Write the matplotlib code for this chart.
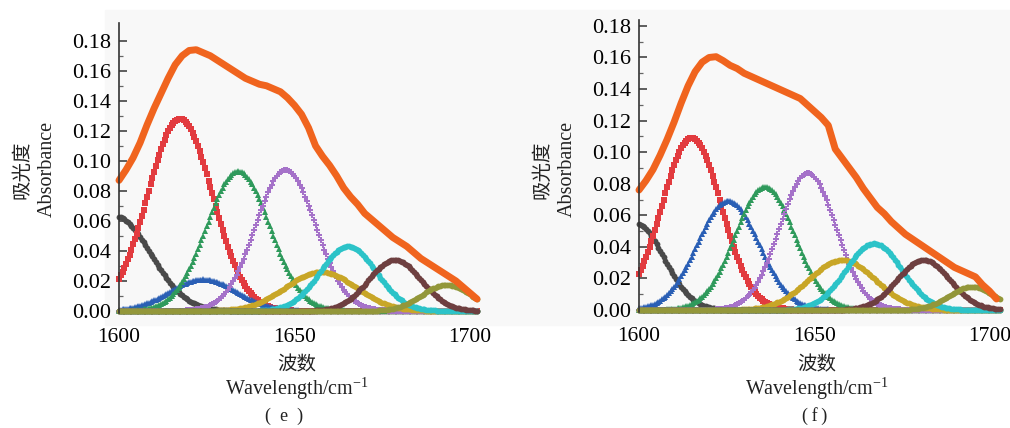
#Peak fitting of the amide I band, panels (e) and (f)
import numpy as np
import matplotlib.pyplot as plt
from matplotlib.patches import Rectangle

plt.rcParams['font.family'] = ['Liberation Serif', 'Noto Sans CJK SC']
plt.rcParams['mathtext.fontset'] = 'custom'
plt.rcParams['mathtext.rm'] = 'Liberation Serif'

# measured spectrum, read every 2 cm-1 from 1600 to 1702
wn_spec = list(range(1600, 1703, 2))
spec_e = [0.087, 0.094, 0.102, 0.112, 0.124, 0.135, 0.145, 0.155, 0.164, 0.170,
          0.1735, 0.174, 0.172, 0.170, 0.167, 0.164, 0.161, 0.158, 0.155, 0.153,
          0.151, 0.150, 0.148, 0.146, 0.142, 0.137, 0.131, 0.122, 0.110, 0.103,
          0.097, 0.090, 0.082, 0.076, 0.071, 0.065, 0.061, 0.057, 0.053, 0.049,
          0.046, 0.043, 0.039, 0.035, 0.032, 0.029, 0.026, 0.023, 0.020, 0.016,
          0.012, 0.008]
spec_f = [0.076, 0.082, 0.089, 0.098, 0.108, 0.119, 0.131, 0.142, 0.151, 0.157,
          0.160, 0.1605, 0.158, 0.155, 0.153, 0.150, 0.148, 0.146, 0.144, 0.142,
          0.140, 0.138, 0.136, 0.134, 0.130, 0.126, 0.122, 0.117, 0.102, 0.096,
          0.090, 0.084, 0.077, 0.071, 0.065, 0.061, 0.056, 0.052, 0.048, 0.045,
          0.042, 0.039, 0.036, 0.033, 0.030, 0.027, 0.025, 0.023, 0.021, 0.016,
          0.012, 0.007]

# fitted gaussian bands: black, red, blue, green, purple, gold, cyan, brown, olive
band_colors = ['#4a4a4a', '#e23b3f', '#2a5fb5', '#2f9a5c', '#a572c9',
               '#c8a627', '#2cc3c8', '#6e3f40', '#93973a']
band_markers = ['o', 's', '^', '^', 'P', 'o', 'o', 'o', 'o']

centers_e = [1599, 1617.4, 1624, 1634, 1647.5, 1657.5, 1665.3, 1678.6, 1693.3]
heights_e = [0.063, 0.128, 0.021, 0.093, 0.094, 0.026, 0.043, 0.034, 0.0174]
widths_e = [10, 9.2, 9.5, 9.0, 8.5, 10, 8, 7.5, 7]

centers_f = [1599, 1615, 1625.5, 1636, 1648.2, 1657.9, 1667, 1681.2, 1695]
heights_f = [0.055, 0.109, 0.069, 0.078, 0.0866, 0.0317, 0.0422, 0.0317, 0.0148]
widths_f = [8, 8.5, 8.8, 8.5, 8, 9.5, 8, 7.5, 6.5]

W, H = 1010, 428
fig = plt.figure(figsize=(W / 100, H / 100), dpi=100)
fig.patches.append(Rectangle((105 / W, 1 - 325 / H), 905 / W, 315 / H,
                             transform=fig.transFigure, color='#f8f8f8', zorder=-5))

panels = [
    # spectrum, centers, heights, widths, axis px (left, right, top, bottom), xmax, ymax, tag, tag x, label x
    (spec_e, centers_e, heights_e, widths_e, (119, 477, 22.7, 312.5), 1702, 0.192,
     '(\u2002e\u2002)', 284, 297),
    (spec_f, centers_f, heights_f, widths_f, (639, 1000, 19.6, 311.6), 1703, 0.184,
     '(\u2009f\u2009)', 815, 817),
]

for spec, cen, hgt, wid, box, xmax, ymax, tag, tx, lx in panels:
    l, r, t, b = box
    ax = fig.add_axes([l / W, 1 - b / H, (r - l) / W, (b - t) / H])
    ax.patch.set_alpha(0)
    x = np.arange(1600, xmax + 0.01, 0.5)
    for c, h, s, col, mk in zip(cen, hgt, wid, band_colors, band_markers):
        y = h * np.exp(-(x - c) ** 2 / (2 * s ** 2))
        ax.plot(x, y, linestyle='none', marker=mk, markersize=4.2,
                color=col, markeredgewidth=0, clip_on=False)
    ax.plot(wn_spec, spec, color='#f0641e', lw=5, solid_capstyle='round',
            solid_joinstyle='round', clip_on=False)

    ax.set_xlim(1600, xmax)
    ax.set_ylim(-0.001, ymax)
    ax.set_xticks([1600, 1650, 1700])
    ax.set_yticks(np.arange(0, 0.181, 0.02))
    ax.set_yticks(np.arange(0, 0.19, 0.01), minor=True)
    ax.yaxis.set_major_formatter(plt.FormatStrFormatter('%.2f'))
    for side in ['top', 'right', 'bottom']:
        ax.spines[side].set_visible(False)
    ax.spines['left'].set_color('#333333')
    ax.spines['left'].set_linewidth(1.2)
    ax.tick_params(axis='y', which='major', direction='in', length=6, width=1.1,
                   color='#333333', labelsize=16, pad=6)
    ax.tick_params(axis='y', which='minor', direction='in', length=3, width=0.9,
                   color='#666666')
    ax.tick_params(axis='x', length=0, labelsize=15.5, pad=11)

    # y labels (two rotated lines) and x labels below
    fig.text((l - 97) / W, 1 - 170 / H, '吸光度', rotation=90, ha='center', va='center',
             fontsize=14, color='#222222')
    fig.text((l - 72) / W, 1 - 169 / H, 'Absorbance', rotation=90, ha='center', va='center',
             fontsize=14.5, color='#222222')
    fig.text(lx / W, 1 - 365 / H, '波数', ha='center', va='center', fontsize=14, color='#222222')
    fig.text(lx / W, 1 - 389 / H, r'Wavelength/cm$^{\mathrm{-1}}$', ha='center', va='center',
             fontsize=14.5, color='#222222')
    fig.text(tx / W, 1 - 416 / H, tag, ha='center', va='center', fontsize=13,
             color='#222222')

fig.savefig('out.png', dpi=100, facecolor='white')
